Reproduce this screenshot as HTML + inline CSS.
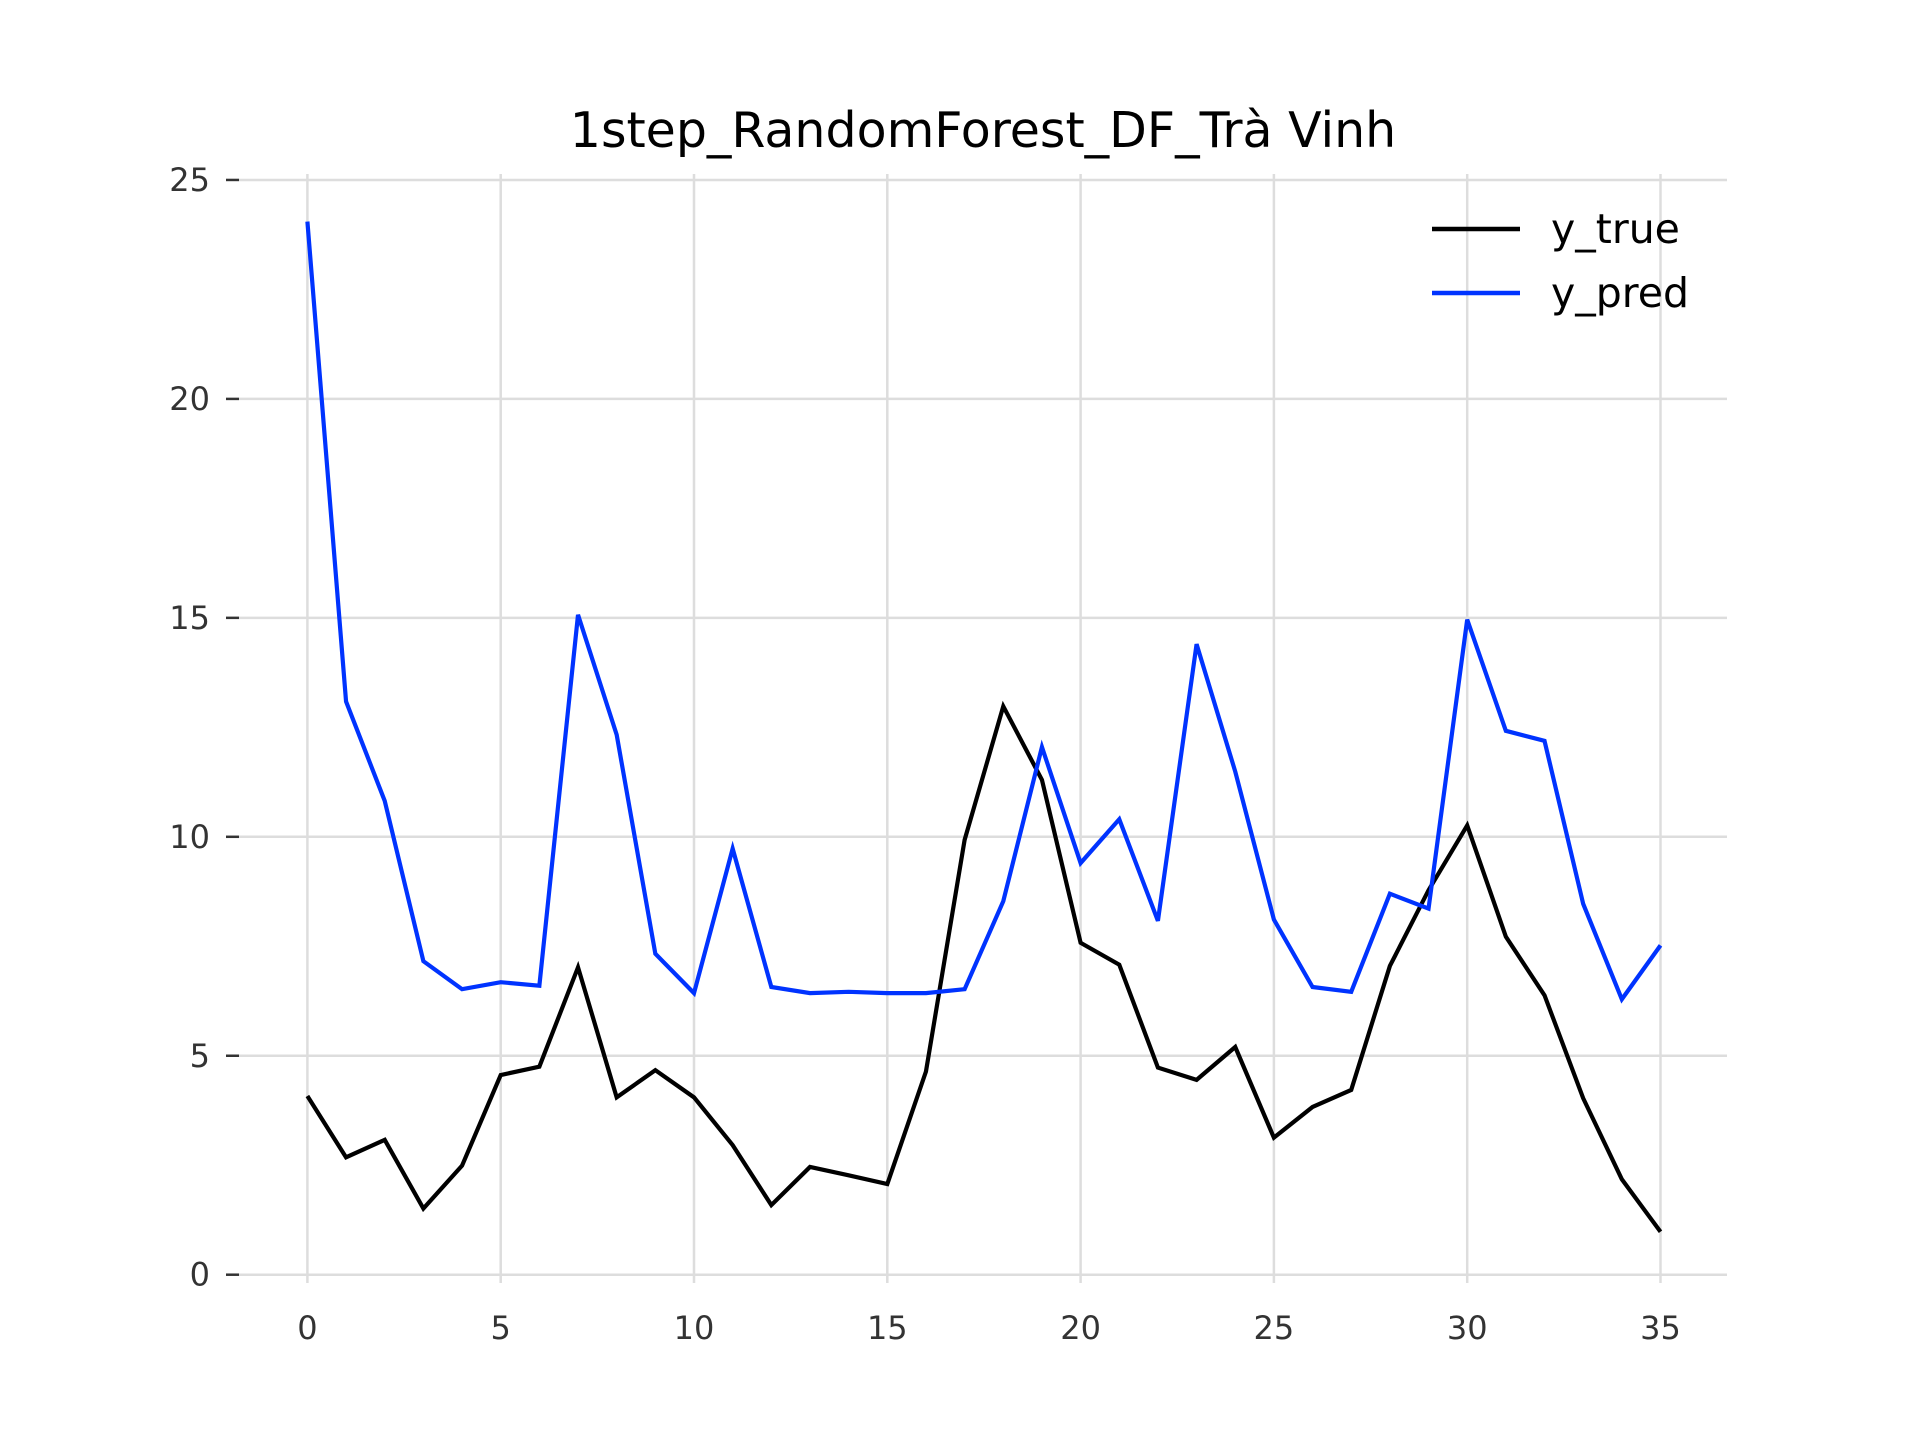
<!DOCTYPE html>
<html><head><meta charset="utf-8"><style>
html,body{margin:0;padding:0;background:#fff;}
svg{display:block;font-family:"DejaVu Sans","Liberation Sans",sans-serif;}
</style></head><body>
<svg id="chart" width="1920" height="1440" viewBox="0 0 1920 1440">
<text x="983" y="147" font-size="49" text-anchor="middle" fill="#000">1step_RandomForest_DF_Trà Vinh</text>
<g id="grid"></g><g id="ticks"></g><g id="lines"></g>
<g>
<line x1="1432" y1="229" x2="1520" y2="229" stroke="#000" stroke-width="4.5"/>
<text x="1551" y="243" font-size="41" fill="#000">y_true</text>
<line x1="1432" y1="293" x2="1520" y2="293" stroke="#0033ff" stroke-width="4.5"/>
<text x="1551" y="307" font-size="41" fill="#000">y_pred</text>
</g>
</svg>
<script>
const xTicks=[0,5,10,15,20,25,30,35];
const yTicks=[0,5,10,15,20,25];
const yTrue=[4.08,2.68,3.08,1.51,2.49,4.56,4.75,7.02,4.05,4.67,4.05,2.96,1.59,2.46,2.27,2.07,4.64,9.93,12.98,11.3,7.58,7.08,4.73,4.45,5.2,3.13,3.83,4.22,7.05,8.78,10.26,7.72,6.38,4.03,2.18,0.98];
const yPred=[24.05,13.09,10.82,7.16,6.52,6.68,6.6,15.07,12.33,7.33,6.43,9.73,6.57,6.43,6.46,6.43,6.43,6.52,8.53,12.05,9.4,10.4,8.08,14.4,11.49,8.11,6.57,6.46,8.7,8.36,14.96,12.42,12.19,8.47,6.29,7.52];
const NS='http://www.w3.org/2000/svg';
const X=v=>307.4+v*38.66;
const Y=v=>1274.7-v*43.79;
function mk(t,a,p){const e=document.createElementNS(NS,t);for(const k in a)e.setAttribute(k,a[k]);p.appendChild(e);return e;}
const grid=document.getElementById('grid'),ticks=document.getElementById('ticks'),lines=document.getElementById('lines');
xTicks.forEach(t=>{
 const g=mk('line',{x1:X(t),x2:X(t),y1:174,y2:1283,stroke:'#dddddd','stroke-width':2.5},grid);
 
 
 const l=mk('text',{x:X(t),y:1339,'font-size':32,'text-anchor':'middle',fill:'#333'},ticks);
 l.textContent=t;
 
 
});
yTicks.forEach(t=>{
 const g=mk('line',{x1:239,x2:1727,y1:Y(t),y2:Y(t),stroke:'#dddddd','stroke-width':2.5},grid);
 
 
 const m=mk('line',{x1:226,x2:239,y1:Y(t),y2:Y(t),stroke:'#333','stroke-width':2.5},ticks);
 
 
 const l=mk('text',{x:210,y:Y(t)+11,'font-size':32,'text-anchor':'end',fill:'#333'},ticks);
 l.textContent=t;
 
 
});
function series(d,c,n){
 const p=mk('polyline',{points:d.map((v,i)=>X(i)+','+Y(v)).join(' '),fill:'none',stroke:c,'stroke-width':4.2,'stroke-linejoin':'miter'},lines);
 
 
}
series(yTrue,'#000000','y-true-line');
series(yPred,'#0033ff','y-pred-line');
</script>
</body></html>
